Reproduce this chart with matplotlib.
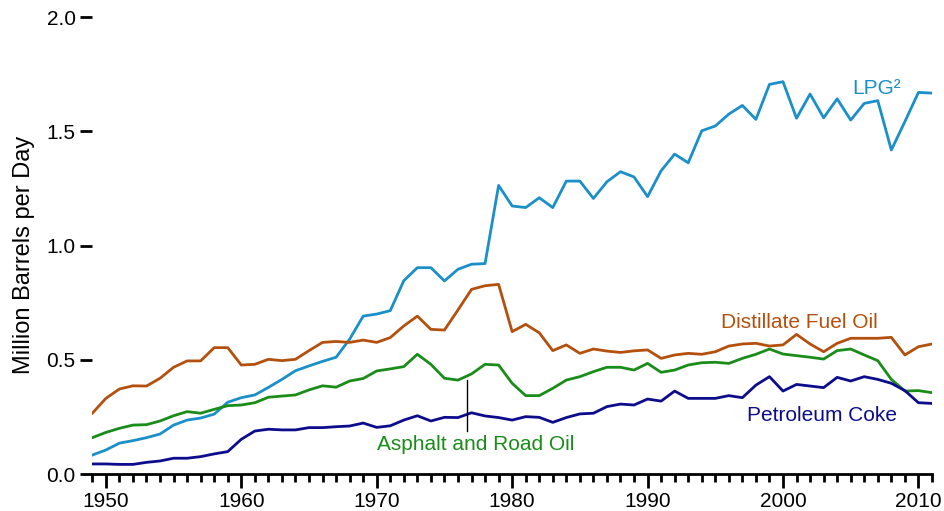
import matplotlib
matplotlib.use("Agg")
import matplotlib.pyplot as plt
from matplotlib.ticker import MultipleLocator

plt.rcParams['font.family'] = ['Liberation Sans', 'DejaVu Sans']

years = list(range(1949, 2012))

lpg = [0.083, 0.105, 0.135, 0.146, 0.159, 0.175, 0.214, 0.236, 0.245, 0.262,
       0.314, 0.334, 0.346, 0.379, 0.414, 0.452, 0.473, 0.493, 0.511, 0.590,
       0.691, 0.700, 0.715, 0.846, 0.903, 0.903, 0.845, 0.896, 0.918, 0.921,
       1.263, 1.173, 1.166, 1.209, 1.166, 1.282, 1.282, 1.206, 1.279, 1.323,
       1.300, 1.214, 1.327, 1.400, 1.362, 1.502, 1.523, 1.575, 1.613, 1.552,
       1.705, 1.717, 1.557, 1.663, 1.559, 1.642, 1.549, 1.622, 1.634, 1.418,
       1.542, 1.670, 1.667]

distillate = [0.266, 0.331, 0.372, 0.386, 0.385, 0.419, 0.467, 0.495, 0.495, 0.553,
              0.553, 0.477, 0.480, 0.502, 0.496, 0.502, 0.540, 0.576, 0.580, 0.576,
              0.586, 0.576, 0.597, 0.648, 0.691, 0.633, 0.630, 0.718, 0.808, 0.824,
              0.830, 0.623, 0.655, 0.618, 0.540, 0.565, 0.528, 0.547, 0.538, 0.532,
              0.539, 0.543, 0.506, 0.521, 0.528, 0.524, 0.535, 0.560, 0.569, 0.572,
              0.560, 0.565, 0.611, 0.569, 0.535, 0.572, 0.594, 0.594, 0.594, 0.598,
              0.521, 0.557, 0.569]

asphalt = [0.159, 0.182, 0.200, 0.214, 0.216, 0.232, 0.255, 0.273, 0.266, 0.283,
           0.299, 0.302, 0.312, 0.336, 0.341, 0.346, 0.368, 0.386, 0.380, 0.407,
           0.418, 0.451, 0.460, 0.470, 0.524, 0.480, 0.419, 0.411, 0.438, 0.480,
           0.477, 0.397, 0.343, 0.343, 0.375, 0.411, 0.426, 0.448, 0.467, 0.467,
           0.455, 0.484, 0.445, 0.455, 0.477, 0.487, 0.489, 0.484, 0.506, 0.524,
           0.547, 0.525, 0.518, 0.511, 0.503, 0.540, 0.547, 0.521, 0.496, 0.414,
           0.363, 0.365, 0.356]

coke = [0.044, 0.044, 0.042, 0.042, 0.051, 0.057, 0.069, 0.069, 0.076, 0.088,
        0.098, 0.152, 0.188, 0.196, 0.193, 0.193, 0.203, 0.203, 0.207, 0.210,
        0.223, 0.204, 0.211, 0.236, 0.255, 0.232, 0.248, 0.247, 0.268, 0.254,
        0.247, 0.236, 0.251, 0.248, 0.226, 0.247, 0.263, 0.266, 0.295, 0.306,
        0.302, 0.328, 0.319, 0.363, 0.331, 0.331, 0.331, 0.343, 0.334, 0.389,
        0.426, 0.363, 0.392, 0.385, 0.378, 0.423, 0.407, 0.426, 0.414, 0.397,
        0.365, 0.312, 0.309]

c_lpg = '#1a8fc8'
c_dist = '#b4500e'
c_asph = '#1a8c1a'
c_coke = '#0c0c8c'

fig = plt.figure(figsize=(9.45, 5.11), dpi=100)
ax = fig.add_axes([0.0977, 0.0724, 0.8885, 0.8943])

ax.plot(years, lpg, color=c_lpg, lw=2)
ax.plot(years, distillate, color=c_dist, lw=2)
ax.plot(years, asphalt, color=c_asph, lw=2)
ax.plot(years, coke, color=c_coke, lw=2)

ax.set_xlim(1949, 2011)
ax.set_ylim(0, 2.0)

for s in ['top', 'right', 'left']:
    ax.spines[s].set_visible(False)
ax.spines['bottom'].set_linewidth(2)

ax.xaxis.set_major_locator(MultipleLocator(10))
ax.xaxis.set_minor_locator(MultipleLocator(1))
ax.yaxis.set_major_locator(MultipleLocator(0.5))
ax.yaxis.set_major_formatter(matplotlib.ticker.FormatStrFormatter('%.1f'))
ax.tick_params(axis='x', which='major', length=10, width=2, labelsize=15, pad=3)
ax.tick_params(axis='x', which='minor', length=6, width=2)
ax.tick_params(axis='y', which='major', length=9, width=2, labelsize=15, pad=3)

ax.set_ylabel('Million Barrels per Day', fontsize=17)
ax.yaxis.set_label_coords(-0.068, 0.479)

# series labels
ax.text(2005.1, 1.685, 'LPG\u00b2', color=c_lpg, fontsize=15, ha='left', va='center')
ax.text(2001.2, 0.665, 'Distillate Fuel Oil', color=c_dist, fontsize=15, ha='center', va='center')
ax.text(2002.9, 0.258, 'Petroleum Coke', color=c_coke, fontsize=15, ha='center', va='center')
ax.text(1977.3, 0.127, 'Asphalt and Road Oil', color=c_asph, fontsize=15, ha='center', va='center')
ax.plot([1976.7, 1976.7], [0.188, 0.411], color='black', lw=1)

fig.savefig('out.png', dpi=100)
